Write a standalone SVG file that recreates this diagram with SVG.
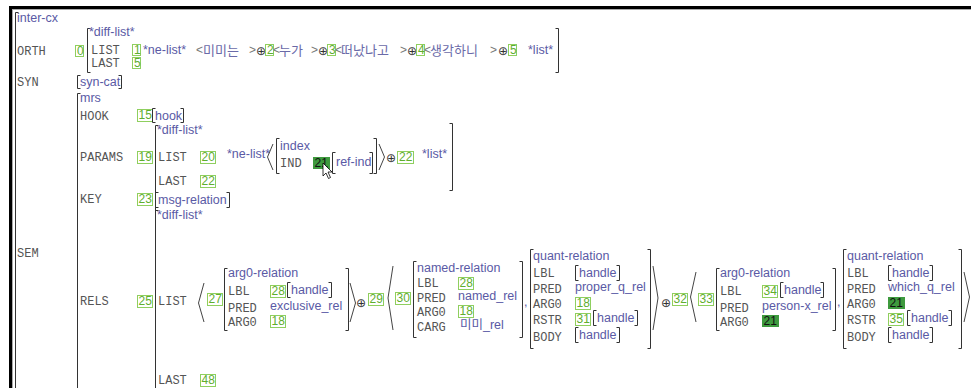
<svg xmlns="http://www.w3.org/2000/svg" width="971" height="388" viewBox="0 0 971 388">
<style>
.t{font-family:"Liberation Sans","Noto Sans CJK KR",sans-serif;font-size:12.5px;fill:#5a5aa5}
.a{font-family:"Liberation Mono",monospace;font-size:12px;fill:#555}
.k{font-family:"Noto Sans CJK KR",sans-serif;font-size:13px;fill:#6a6aa8}
.lt{font-family:"Liberation Sans",sans-serif;font-size:12px;fill:#777}
.op{font-family:"DejaVu Sans",sans-serif;font-size:12px;fill:#333}
.br{fill:none;stroke:#333;stroke-width:1}
.ang{fill:none;stroke:#444;stroke-width:1}
.tg rect{fill:none;stroke:#8fcf5f;stroke-width:1}
.tg text{font-family:"Liberation Sans",sans-serif;font-size:12px;fill:#5fae2e}
.tf rect{fill:#3e9a3e;stroke:none}
.tf text{font-family:"Liberation Sans",sans-serif;font-size:12px;fill:#111}
</style>
<rect width="971" height="388" fill="#fff"/>
<g id="frame">
<rect x="9" y="6" width="962" height="3" fill="#000"/>
<line x1="9" y1="9.5" x2="971" y2="9.5" stroke="#aaa"/>
<rect x="9" y="6" width="3" height="382" fill="#000"/>
<line x1="12.5" y1="9" x2="12.5" y2="388" stroke="#aaa"/>
</g>
<g id="root">
<path class="br" d="M18.5 12.5H15.5V390"/>
<text class="t" x="17" y="22">inter-cx</text>
</g>
<g id="orth">
<text class="a" x="17" y="55">ORTH</text>
<g class="tg"><rect x="75.5" y="45.5" width="8" height="11"/><text x="77" y="55">0</text></g>
<path class="br" d="M90.5 28.5H87.5V72.5H90.5"/>
<text class="t" x="89" y="36">*diff-list*</text>
<text class="a" x="91" y="54">LIST</text>
<g class="tg"><rect x="132.5" y="44.5" width="8" height="11"/><text x="134" y="54">1</text></g>
<text class="t" x="143" y="54">*ne-list*</text>
<text class="lt" x="196" y="54">&lt;</text><text class="k" x="203" y="55">미미는</text><text class="lt" x="249" y="54">&gt;</text>
<text class="op" x="256" y="55">⊕</text>
<g class="tg"><rect x="265.5" y="44.5" width="8" height="11"/><text x="267" y="54">2</text></g>
<text class="lt" x="273" y="54">&lt;</text><text class="k" x="279" y="55">누가</text><text class="lt" x="311" y="54">&gt;</text>
<text class="op" x="318" y="55">⊕</text>
<g class="tg"><rect x="327.5" y="44.5" width="8" height="11"/><text x="329" y="54">3</text></g>
<text class="lt" x="335" y="54">&lt;</text><text class="k" x="341" y="55">떠났나고</text><text class="lt" x="400" y="54">&gt;</text>
<text class="op" x="407" y="55">⊕</text>
<g class="tg"><rect x="416.5" y="44.5" width="8" height="11"/><text x="418" y="54">4</text></g>
<text class="lt" x="424" y="54">&lt;</text><text class="k" x="430" y="55">생각하니</text><text class="lt" x="490" y="54">&gt;</text>
<text class="op" x="498" y="55">⊕</text>
<g class="tg"><rect x="508.5" y="44.5" width="8" height="11"/><text x="510" y="54">5</text></g>
<text class="t" x="528" y="54">*list*</text>
<path class="br" d="M555.5 28.5H558.5V72.5H555.5"/>
<text class="a" x="91" y="67">LAST</text>
<g class="tg"><rect x="132.5" y="57.5" width="8" height="11"/><text x="134" y="67">5</text></g>
</g>
<g id="syn">
<text class="a" x="17" y="86">SYN</text>
<path class="br" d="M80.5 75.5H77.5V88.5H80.5"/>
<text class="t" x="80" y="86">syn-cat</text>
<path class="br" d="M118.5 75.5H121.5V88.5H118.5"/>
</g>
<g id="sem">
<text class="a" x="17" y="257">SEM</text>
<path class="br" d="M80.5 93.5H77.5V390"/>
<text class="t" x="80" y="102">mrs</text>
</g>
<g id="hook">
<text class="a" x="80" y="120">HOOK</text>
<g class="tg"><rect x="137.5" y="109.5" width="15" height="12"/><text x="138.5" y="119">15</text></g>
<path class="br" d="M155.5 108.5H152.5V122.5H155.5"/>
<text class="t" x="155" y="120">hook</text>
<path class="br" d="M180.5 108.5H183.5V122.5H180.5"/>
</g>
<g id="params">
<text class="a" x="80" y="161">PARAMS</text>
<g class="tg"><rect x="137.5" y="151.5" width="15" height="12"/><text x="138.5" y="161">19</text></g>
<path class="br" d="M158.5 125.5H155.5V390"/>
<text class="t" x="157" y="134">*diff-list*</text>
<text class="a" x="158" y="161">LIST</text>
<g class="tg"><rect x="200.5" y="151.5" width="15" height="12"/><text x="201.5" y="161">20</text></g>
<text class="t" x="227" y="158">*ne-list*</text>
<polyline class="ang" points="273,144 267.5,157 273,170"/>
<path class="br" d="M279.5 138.5H276.5V173.5H279.5"/>
<text class="t" x="280" y="150">index</text>
<text class="a" x="280" y="167">IND</text>
<g class="tf"><rect x="313" y="157" width="17" height="12"/><text x="314.5" y="167">21</text></g>
<path class="br" d="M335.5 152.5H332.5V173.5H335.5"/>
<text class="t" x="336" y="166">ref-ind</text>
<path class="br" d="M369.5 152.5H372.5V173.5H369.5"/>
<path class="br" d="M373.5 138.5H376.5V173.5H373.5"/>
<polyline class="ang" points="379,144 384.5,157 379,170"/>
<text class="op" x="386" y="162">⊕</text>
<g class="tg"><rect x="397.5" y="151.5" width="16" height="12"/><text x="399" y="161">22</text></g>
<text class="t" x="422" y="158">*list*</text>
<path class="br" d="M449.5 123.5H452.5V190.5H449.5"/>
<text class="a" x="158" y="185">LAST</text>
<g class="tg"><rect x="200.5" y="175.5" width="15" height="12"/><text x="201.5" y="185">22</text></g>
</g>
<g id="key">
<text class="a" x="80" y="203">KEY</text>
<g class="tg"><rect x="137.5" y="193.5" width="15" height="12"/><text x="138.5" y="203">23</text></g>
<path class="br" d="M158.5 192.5H155.5V207.5H158.5"/>
<text class="t" x="158" y="204">msg-relation</text>
<path class="br" d="M226.5 192.5H229.5V207.5H226.5"/>
</g>
<g id="rels">
<text class="t" x="157" y="219">*diff-list*</text>
<path class="br" d="M158.5 210.5H155.5"/>
<text class="a" x="80" y="305">RELS</text>
<g class="tg"><rect x="137.5" y="295.5" width="15" height="12"/><text x="138.5" y="305">25</text></g>
<text class="a" x="158" y="305">LIST</text>
<text class="a" x="158" y="384">LAST</text>
<g class="tg"><rect x="200.5" y="374.5" width="15" height="12"/><text x="201.5" y="384">48</text></g>
</g>
<g id="connectors">
<polyline class="ang" points="204,283 198.5,303 204,322"/>
<polyline class="ang" points="350,283 355.5,303 350,322"/>
<text class="op" x="356" y="307">⊕</text>
<polyline class="ang" points="393,266 388,298 393,330"/>
<polyline class="ang" points="653,266 658,298 653,330"/>
<text class="op" x="661" y="307">⊕</text>
<polyline class="ang" points="696,272 690.5,297 696,322"/>
<polyline class="ang" points="964,272 969.5,297 964,322"/>
</g>
<g id="rel27">
<g class="tg"><rect x="207.5" y="293.5" width="15" height="12"/><text x="208.5" y="303">27</text></g>
<path class="br" d="M227.5 268.5H224.5V330.5H227.5"/>
<text class="t" x="228" y="277">arg0-relation</text>
<text class="a" x="228" y="295">LBL</text>
<g class="tg"><rect x="270.5" y="285.5" width="15" height="12"/><text x="271.5" y="295">28</text></g>
<path class="br" d="M290.5 282.5H287.5V297.5H290.5"/>
<text class="t" x="291" y="294">handle</text>
<path class="br" d="M328.5 282.5H331.5V297.5H328.5"/>
<text class="a" x="228" y="312">PRED</text>
<text class="t" x="270" y="310">exclusive_rel</text>
<text class="a" x="228" y="326">ARG0</text>
<g class="tg"><rect x="270.5" y="315.5" width="15" height="12"/><text x="271.5" y="325">18</text></g>
<path class="br" d="M345.5 268.5H348.5V330.5H345.5"/>
</g>
<g id="tag29">
<g class="tg"><rect x="368.5" y="293.5" width="15" height="12"/><text x="369.5" y="303">29</text></g>
</g>
<g id="rel30">
<g class="tg"><rect x="395.5" y="292.5" width="15" height="12"/><text x="396.5" y="302">30</text></g>
<path class="br" d="M416.5 261.5H413.5V337.5H416.5"/>
<text class="t" x="417" y="272">named-relation</text>
<text class="a" x="417" y="287">LBL</text>
<g class="tg"><rect x="458.5" y="277.5" width="15" height="12"/><text x="459.5" y="287">28</text></g>
<text class="a" x="417" y="302">PRED</text>
<text class="t" x="458" y="300">named_rel</text>
<text class="a" x="417" y="316">ARG0</text>
<g class="tg"><rect x="458.5" y="305.5" width="15" height="12"/><text x="459.5" y="315">18</text></g>
<text class="a" x="417" y="331">CARG</text>
<text class="t" x="460" y="329">미미_rel</text>
<path class="br" d="M519.5 261.5H522.5V337.5H519.5"/>
<text class="t" x="524" y="306">,</text>
</g>
<g id="quant1">
<path class="br" d="M533.5 249.5H530.5V348.5H533.5"/>
<text class="t" x="533" y="260">quant-relation</text>
<text class="a" x="533" y="277">LBL</text>
<path class="br" d="M578.5 265.5H575.5V280.5H578.5"/>
<text class="t" x="579" y="277">handle</text>
<path class="br" d="M616.5 265.5H619.5V280.5H616.5"/>
<text class="a" x="533" y="293">PRED</text>
<text class="t" x="575" y="291">proper_q_rel</text>
<text class="a" x="533" y="308">ARG0</text>
<g class="tg"><rect x="575.5" y="297.5" width="15" height="12"/><text x="576.5" y="307">18</text></g>
<text class="a" x="533" y="324">RSTR</text>
<g class="tg"><rect x="575.5" y="313.5" width="15" height="12"/><text x="576.5" y="323">31</text></g>
<path class="br" d="M596.5 310.5H593.5V325.5H596.5"/>
<text class="t" x="597" y="322">handle</text>
<path class="br" d="M634.5 310.5H637.5V325.5H634.5"/>
<text class="a" x="533" y="341">BODY</text>
<path class="br" d="M578.5 327.5H575.5V342.5H578.5"/>
<text class="t" x="579" y="339">handle</text>
<path class="br" d="M616.5 327.5H619.5V342.5H616.5"/>
<path class="br" d="M647.5 249.5H650.5V348.5H647.5"/>
</g>
<g id="tag32">
<g class="tg"><rect x="672.5" y="293.5" width="15" height="12"/><text x="673.5" y="303">32</text></g>
</g>
<g id="rel33">
<g class="tg"><rect x="698.5" y="293.5" width="15" height="12"/><text x="699.5" y="303">33</text></g>
<path class="br" d="M719.5 268.5H716.5V330.5H719.5"/>
<text class="t" x="720" y="277">arg0-relation</text>
<text class="a" x="720" y="295">LBL</text>
<g class="tg"><rect x="762.5" y="285.5" width="15" height="12"/><text x="763.5" y="295">34</text></g>
<path class="br" d="M783.5 282.5H780.5V297.5H783.5"/>
<text class="t" x="784" y="294">handle</text>
<path class="br" d="M820.5 282.5H823.5V297.5H820.5"/>
<text class="a" x="720" y="312">PRED</text>
<text class="t" x="762" y="310">person-x_rel</text>
<text class="a" x="720" y="326">ARG0</text>
<g class="tf"><rect x="762" y="315" width="17" height="12"/><text x="763.5" y="325">21</text></g>
<path class="br" d="M832.5 268.5H835.5V330.5H832.5"/>
<text class="t" x="837" y="306">,</text>
</g>
<g id="quant2">
<path class="br" d="M846.5 249.5H843.5V348.5H846.5"/>
<text class="t" x="847" y="260">quant-relation</text>
<text class="a" x="847" y="277">LBL</text>
<path class="br" d="M891.5 265.5H888.5V280.5H891.5"/>
<text class="t" x="892" y="277">handle</text>
<path class="br" d="M929.5 265.5H932.5V280.5H929.5"/>
<text class="a" x="847" y="293">PRED</text>
<text class="t" x="888" y="291">which_q_rel</text>
<text class="a" x="847" y="308">ARG0</text>
<g class="tf"><rect x="888" y="297" width="17" height="12"/><text x="889.5" y="307">21</text></g>
<text class="a" x="847" y="324">RSTR</text>
<g class="tg"><rect x="888.5" y="313.5" width="15" height="12"/><text x="889.5" y="323">35</text></g>
<path class="br" d="M910.5 310.5H907.5V325.5H910.5"/>
<text class="t" x="911" y="322">handle</text>
<path class="br" d="M948.5 310.5H951.5V325.5H948.5"/>
<text class="a" x="847" y="341">BODY</text>
<path class="br" d="M891.5 327.5H888.5V342.5H891.5"/>
<text class="t" x="892" y="339">handle</text>
<path class="br" d="M929.5 327.5H932.5V342.5H929.5"/>
<path class="br" d="M958.5 249.5H961.5V348.5H958.5"/>
</g>
<g id="cursor">
<polygon points="323,163 323,176 326,173 328.5,178.5 330.5,177.5 328,172 332,172" fill="#fff" stroke="#000" stroke-width="0.8"/>
</g>
</svg>
